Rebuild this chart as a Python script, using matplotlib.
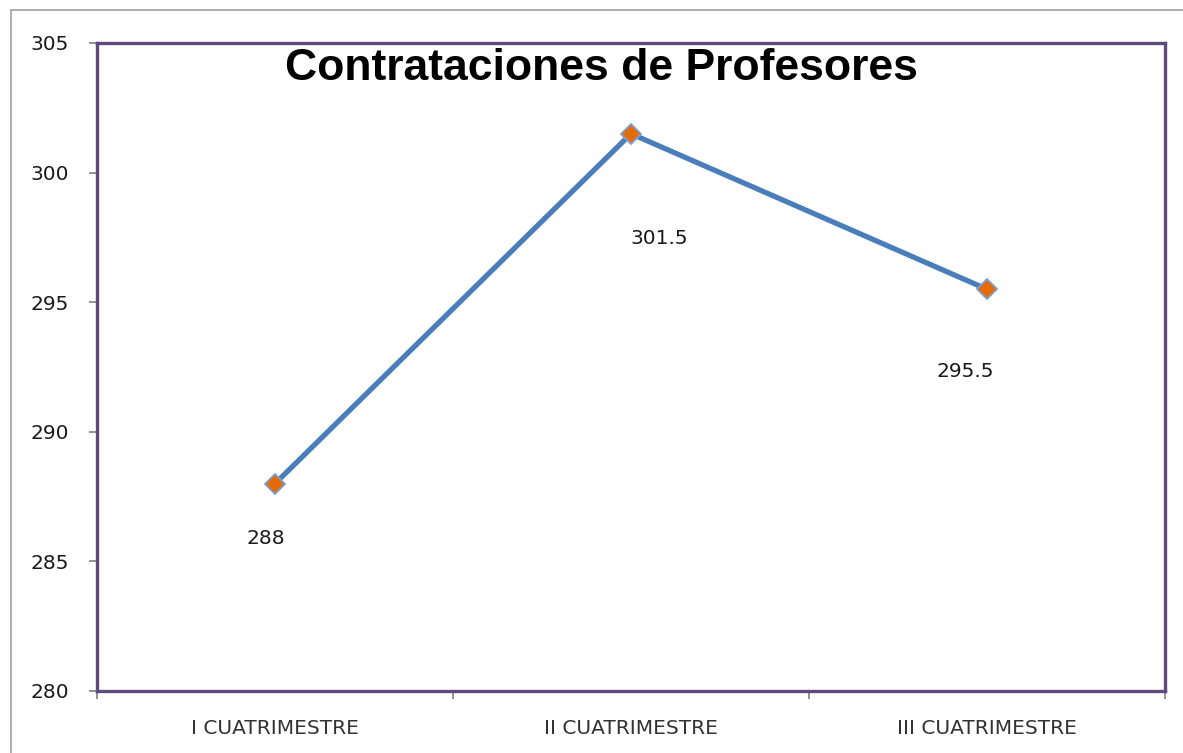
import matplotlib.pyplot as plt
from matplotlib.patches import Rectangle

# ───────────────────────── Data ─────────────────────────
categories = ["I CUATRIMESTRE", "II CUATRIMESTRE", "III CUATRIMESTRE"]
values = [288, 301.5, 295.5]
value_labels = ["288", "301.5", "295.5"]
y_ticks = [280, 285, 290, 295, 300, 305]

# label offsets in pixels (dx, dy) relative to each point
label_offsets = [(-9, -55), (28, -105), (-22, -82)]

plt.rcParams['font.family'] = ['DejaVu Sans']

fig = plt.figure(figsize=(11.83, 7.53), dpi=100)
ax = fig.add_axes([97 / 1183, 1 - 691 / 753, (1165 - 97) / 1183, (691 - 43) / 753])

# outer chart frame (gray)
fig.patches.append(Rectangle((11 / 1183, -0.01), 1.2, 1 - 10 / 753 + 0.01,
                             transform=fig.transFigure, fill=False,
                             edgecolor="#a0a0a0", linewidth=1.2))

x = list(range(len(categories)))
ax.plot(x, values, color="#4a7ebb", linewidth=3.8, zorder=3,
        marker="D", markersize=10, markerfacecolor="#e36c09",
        markeredgecolor="#7f9fcf", markeredgewidth=1.3)

for xi, v, lab, (dx, dy) in zip(x, values, value_labels, label_offsets):
    ax.annotate(lab, (xi, v), xytext=(dx * 0.72, dy * 0.72), textcoords="offset points",
                ha="center", va="center", fontsize=14.5, color="#1a1a1a")

ax.set_xlim(-0.5, len(categories) - 0.5)
ax.set_ylim(280, 305)
ax.set_yticks(y_ticks)
ax.set_yticklabels([str(t) for t in y_ticks], fontsize=14.5, color="#1a1a1a")
ax.set_xticks([-0.5, 0.5, 1.5, 2.5])
ax.set_xticklabels([])
ax.set_xticks(x, minor=True)
ax.set_xticklabels(categories, minor=True, fontsize=14.5, color="#333333")
ax.tick_params(axis="x", which="minor", length=0, pad=20)
ax.tick_params(axis="x", which="major", length=6, color="#808080", width=1.2)
ax.tick_params(axis="y", length=6, color="#808080", width=1.2, pad=14)

for sp in ax.spines.values():
    sp.set_color("#604a7b")
    sp.set_linewidth(2.4)

fig.text(601 / 1183, 1 - 68 / 753, "Contrataciones de Profesores", ha="center", va="center",
         fontsize=32, fontweight="bold", color="black", family="Liberation Sans")

fig.savefig("out.png", dpi=100)
